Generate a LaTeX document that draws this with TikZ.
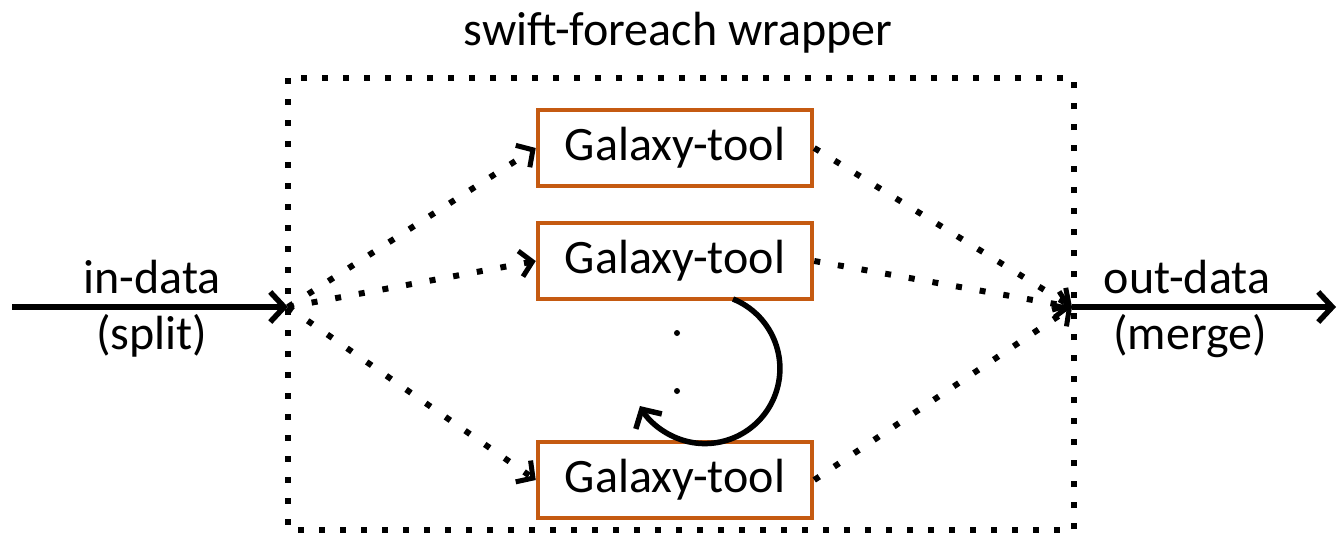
\documentclass[tikz,border=0pt]{standalone}
\usepackage{fontspec}
\setmainfont{Carlito}
\usetikzlibrary{arrows.meta}
\definecolor{boxorange}{RGB}{197,90,17}
\tikzset{
  tool/.style={draw=boxorange, line width=4.5pt, minimum width=274pt, minimum height=76pt, inner sep=0pt, font=\fontsize{48}{56}\selectfont},
  lbl/.style={font=\fontsize{48}{56}\selectfont, inner sep=0pt},
  solidarrow/.style={line width=5.5pt, -{Straight Barb[length=14pt,width=30pt,line width=5.5pt]}},
  dotarrow/.style={line width=6pt, dash pattern=on 6pt off 18pt, -{Straight Barb[length=12pt,width=26pt,line width=5pt]}},
  dotframe/.style={line width=6pt, dash pattern=on 6pt off 15pt},
}
\begin{document}
\begin{tikzpicture}[x=1pt,y=-1pt]
\useasboundingbox (0,0) rectangle (1338,536);
\draw[dotframe] (288,78) rectangle (1074,530);
\node[lbl] (title) at (678,33) {swift-foreach wrapper};
\node[tool] (t1) at (675,148) {Galaxy-tool};
\node[tool] (t2) at (675,261) {Galaxy-tool};
\node[tool] (t3) at (675,480) {Galaxy-tool};
\coordinate (split) at (288,307);
\coordinate (merge) at (1072,307);
\coordinate (inl) at (12,307);
\coordinate (outr) at (1336,307);
\node[lbl] (ind) at (152,277) {in-data};
\node[lbl] (spl) at (152,336) {(split)};
\node[lbl] (outd) at (1187,277) {out-data};
\node[lbl] (mrg) at (1190,336) {(merge)};
\draw[solidarrow] (inl) -- (split);
\draw[solidarrow] (merge) -- (outr);
\draw[dotarrow] (split) -- (t1.west);
\draw[dotarrow] (split) -- (t2.west);
\draw[dotarrow] (split) -- (t3.west);
\draw[dotarrow] (t1.east) -- (merge);
\draw[dotarrow] (t2.east) -- (merge);
\draw[dotarrow] (t3.east) -- (merge);
\node[circle, fill, inner sep=0pt, minimum size=6pt] (d1) at (677,333) {};
\node[circle, fill, inner sep=0pt, minimum size=6pt] (d2) at (677,391) {};
\coordinate (loopstart) at (733,299);
\draw[line width=5.5pt, -{Straight Barb[length=14pt,width=30pt,line width=5.5pt]}] (loopstart) arc[start angle=-68, end angle=150, radius=75];
\end{tikzpicture}
\end{document}
